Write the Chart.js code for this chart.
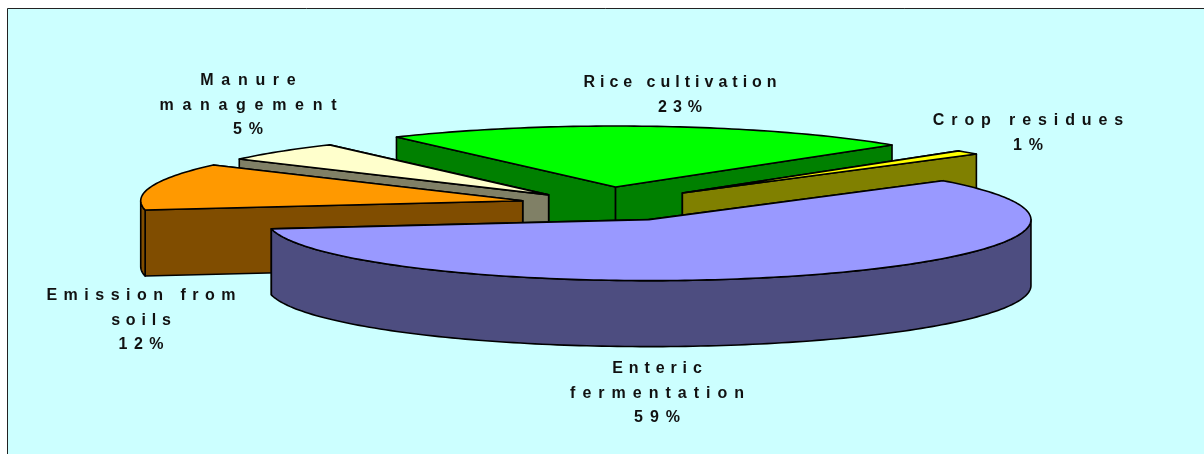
<!DOCTYPE html>
<html>
<head>
<meta charset="utf-8">
<title>Emission sources</title>
<script src="https://cdn.jsdelivr.net/npm/chart.js@4"></script>
<style>
  html, body { margin: 0; padding: 0; background: #fff; }
  canvas { display: block; }
</style>
</head>
<body>
<canvas id="chart" width="1204" height="454"></canvas>
<script>
const categories = ['Rice cultivation', 'Crop residues', 'Enteric fermentation', 'Emission from soils', 'Manure management'];
// the printed labels are these rounded
const values = [22.6, 1.1, 58.6, 12.4, 5.3];
const labelLines = [
  ['Rice cultivation'],
  ['Crop residues'],
  ['Enteric', 'fermentation'],
  ['Emission from', 'soils'],
  ['Manure', 'management']
];
const topColors = ['#00ff00', '#ffff00', '#9999ff', '#ff9900', '#ffffcc'];
const sideColors = ['#008000', '#808000', '#4d4d80', '#804d00', '#808066'];
const explode = [143, 185, 199, 121, 125];

// where the flattened pie goes on the page
const view = { x: 605, y: 204, rx: 382, ry: 61, depth: 66 };
// back to front, painter's order
const drawOrder = [0, 4, 1, 3, 2];
const labelPos = [
  { x: 680, y: 87 },
  { x: 1028, y: 125 },
  { x: 657, y: 373 },
  { x: 141, y: 300 },
  { x: 248, y: 85 }
];
// the original spreads each line by a different amount
const labelSpacing = [
  [5, 6],
  [6.9, 7],
  [5.9, 7, 7],
  [6.5, 5.8, 6.5],
  [7.7, 8.7, 7]
];

// ArcElement.draw shifts the arc and also grows its radius for the offset option
const arcGeometry = arc => {
  const offset = (arc.options.offset || 0) / 4;
  const fix = 1 - Math.sin(Math.min(Math.PI, arc.circumference));
  return { shift: offset, radius: arc.outerRadius + offset * fix };
};

const projector = arc => {
  const { shift, radius } = arcGeometry(arc);
  const sx = view.rx / radius;
  const sy = view.ry / radius;
  const mid = (arc.startAngle + arc.endAngle) / 2;
  return (angle, r) => [
    view.x + (Math.cos(mid) * shift + Math.cos(angle) * r) * sx,
    view.y + (Math.sin(mid) * shift + Math.sin(angle) * r) * sy
  ];
};

const tracePoly = (ctx, pts) => {
  ctx.beginPath();
  pts.forEach((p, i) => (i ? ctx.lineTo(p[0], p[1]) : ctx.moveTo(p[0], p[1])));
  ctx.closePath();
};

const paintPoly = (ctx, pts, fill) => {
  tracePoly(ctx, pts);
  ctx.fillStyle = fill;
  ctx.fill();
  ctx.stroke();
};

const arcPoints = (project, from, to, r) => {
  const pts = [];
  const steps = Math.max(2, Math.ceil((to - from) / 0.02));
  for (let i = 0; i <= steps; i++) {
    pts.push(project(from + ((to - from) * i) / steps, r));
  }
  return pts;
};

const drawWalls = (ctx, arc, color) => {
  const project = projector(arc);
  const R = arcGeometry(arc).radius;
  const apex = project(arc.startAngle, 0);
  const down = p => [p[0], p[1] + view.depth];

  // back edge first so the nearer face covers it
  [arc.startAngle, arc.endAngle]
    .map(angle => project(angle, R))
    .sort((a, b) => a[1] - b[1])
    .forEach(edge => {
      paintPoly(ctx, [apex, edge, down(edge), down(apex)], color);
    });

  // outer wall only shows on the front half of the ellipse
  const twoPi = Math.PI * 2;
  for (let k = -1; k <= 1; k++) {
    const from = Math.max(arc.startAngle, k * twoPi);
    const to = Math.min(arc.endAngle, k * twoPi + Math.PI);
    if (to > from) {
      const rim = arcPoints(project, from, to, R);
      paintPoly(ctx, rim.concat(rim.map(down).reverse()), color);
    }
  }
};

const drawTop = (ctx, arc) => {
  const { radius } = arcGeometry(arc);
  ctx.save();
  ctx.translate(view.x, view.y);
  ctx.scale(view.rx / radius, view.ry / radius);
  ctx.translate(-arc.x, -arc.y);
  arc.draw(ctx);
  ctx.restore();

  // outline in page pixels, the scale above would squash the stroke
  const project = projector(arc);
  const rim = arcPoints(project, arc.startAngle, arc.endAngle, radius);
  paintPoly(ctx, [project(arc.startAngle, 0)].concat(rim), arc.options.backgroundColor);
};

const pie3d = {
  id: 'pie3d',
  beforeDraw(chart) {
    const { ctx, width, height } = chart;
    ctx.save();
    ctx.fillStyle = '#ccffff';
    ctx.fillRect(7, 8, width - 7, height - 8);
    ctx.strokeStyle = '#222';
    ctx.lineWidth = 1;
    ctx.beginPath();
    ctx.moveTo(7.5, height);
    ctx.lineTo(7.5, 8.5);
    ctx.lineTo(width, 8.5);
    ctx.stroke();
    ctx.restore();
  },
  beforeDatasetDraw(chart) {
    const { ctx } = chart;
    const arcs = chart.getDatasetMeta(0).data;
    ctx.save();
    ctx.strokeStyle = '#000';
    ctx.lineWidth = 1.6;
    ctx.lineJoin = 'round';
    drawOrder.forEach(i => {
      drawWalls(ctx, arcs[i], sideColors[i]);
      drawTop(ctx, arcs[i]);
    });
    ctx.restore();
    return false;
  },
  afterDatasetsDraw(chart) {
    const { ctx } = chart;
    ctx.save();
    ctx.font = 'bold 16px "Liberation Sans", Arial, sans-serif';
    ctx.textAlign = 'center';
    ctx.fillStyle = '#111';
    labelLines.forEach((lines, i) => {
      lines.concat(Math.round(values[i]) + '%').forEach((line, n) => {
        const spacing = labelSpacing[i][n];
        ctx.letterSpacing = spacing + 'px';
        ctx.fillText(line, labelPos[i].x + spacing / 2, labelPos[i].y + n * 24.5);
      });
    });
    ctx.restore();
  }
};

new Chart(document.getElementById('chart'), {
  type: 'pie',
  data: {
    labels: categories,
    datasets: [
      {
        data: values,
        backgroundColor: topColors,
        borderWidth: 0,
        offset: explode
      }
    ]
  },
  options: {
    responsive: false,
    animation: false,
    events: [],
    rotation: -35,
    plugins: {
      legend: { display: false },
      tooltip: { enabled: false }
    }
  },
  plugins: [pie3d]
});
</script>
</body>
</html>
